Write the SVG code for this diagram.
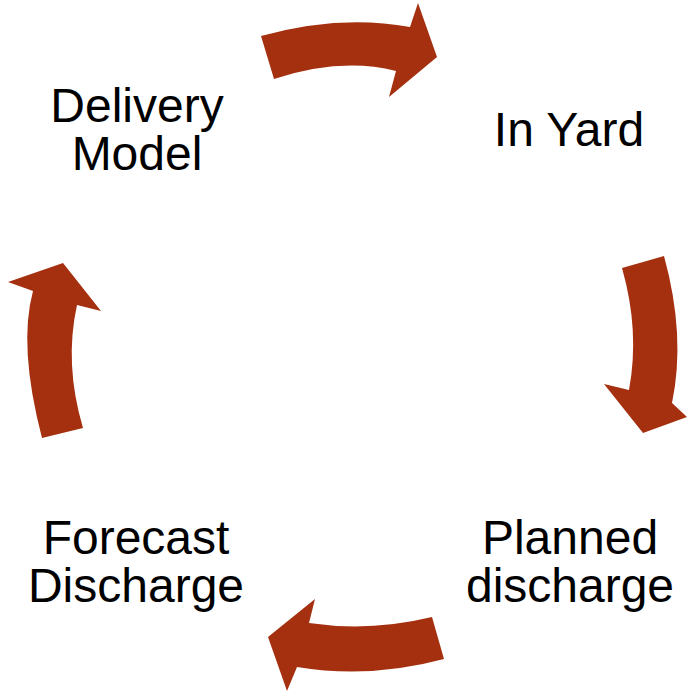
<svg xmlns="http://www.w3.org/2000/svg" width="687" height="692" viewBox="0 0 687 692">
<style>
.arrow{fill:#A5300F;stroke:none}
.lbl{font-family:"Liberation Sans",Arial,sans-serif;font-size:48px;fill:#000;text-anchor:middle}
</style>
<rect width="687" height="692" fill="#fff"/>
<g id="connectors">
<path class="arrow" d="M261,36 Q340,14 410,27 L418,3 L437,57 L389,97 L396,71 Q341,57 274,79 Z"/>
<path class="arrow" d="M664,256 Q686,336 672,403 L687,417 L643,433 L604,384 L629,390 Q640,331 622,268 Z"/>
<path class="arrow" d="M444,659 Q370,679 297,667 L287,691 L268,637 L315,599 L309,623 Q370,632 432,617 Z"/>
<path class="arrow" d="M42,438 Q18,346 33,291 L8,282 L63,263 L101,311 L77,305 Q64,364 83,428 Z"/>
</g>
<g id="delivery-model"><text class="lbl" x="137" y="122">Delivery</text><text class="lbl" x="137" y="170">Model</text></g>
<g id="in-yard"><text class="lbl" x="569" y="146">In Yard</text></g>
<g id="planned-discharge"><text class="lbl" x="570" y="554">Planned</text><text class="lbl" x="570" y="602">discharge</text></g>
<g id="forecast-discharge"><text class="lbl" x="136" y="554">Forecast</text><text class="lbl" x="136" y="602">Discharge</text></g>
</svg>
